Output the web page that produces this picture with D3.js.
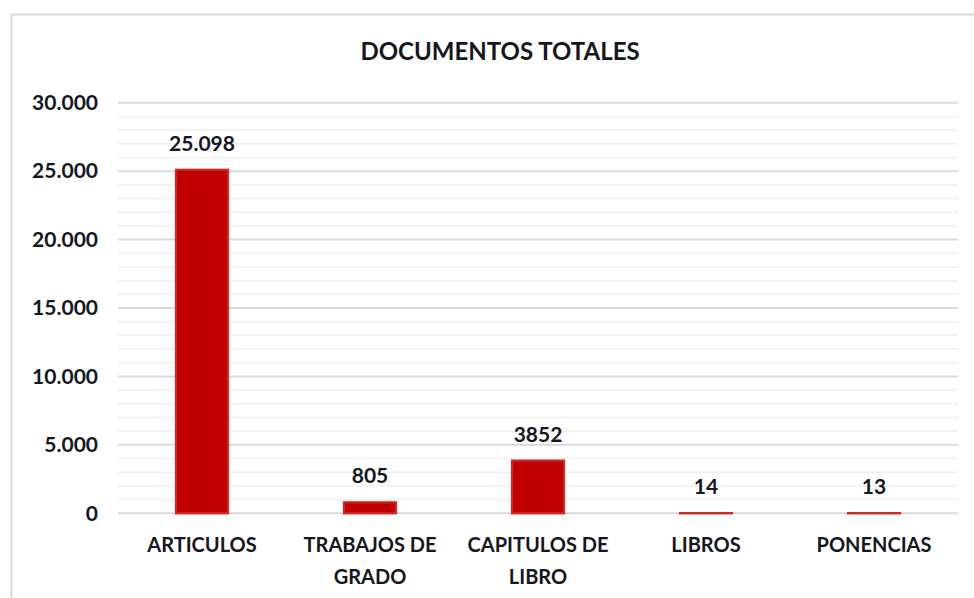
<!DOCTYPE html>
<html>
<head>
<meta charset="utf-8">
<script src="https://cdn.jsdelivr.net/npm/d3@7"></script>
<style>
    body { margin: 0; background: #fff; }
    text { font-family: Lato, "Open Sans", sans-serif; font-weight: bold; fill: #16161e; }
</style>
</head>
<body>
<div id="chart"></div>
<script>
// Data
var categories = ["ARTICULOS", "TRABAJOS DE GRADO", "CAPITULOS DE LIBRO", "LIBROS", "PONENCIAS"];
var values = [25098, 805, 3852, 14, 13];
var valueLabels = ["25.098", "805", "3852", "14", "13"];
var yTicks = [0, 5000, 10000, 15000, 20000, 25000, 30000];
var yTickLabels = ["0", "5.000", "10.000", "15.000", "20.000", "25.000", "30.000"];
var title = "DOCUMENTOS TOTALES";

var W = 974, H = 598;
var margin = { top: 102.7, right: 16, bottom: 84.7, left: 118 };
var width = W - margin.left - margin.right;
var height = H - margin.top - margin.bottom;

var svg = d3.select("#chart").append("svg")
    .attr("width", W)
    .attr("height", H);

// chart area border (only top and left visible in the crop)
svg.append("path")
    .attr("d", "M11.5," + H + " V14.5 H" + W)
    .attr("fill", "none")
    .attr("stroke", "#d9d9d9")
    .attr("stroke-width", 2);

svg.append("text")
    .attr("x", 500)
    .attr("y", 60)
    .attr("text-anchor", "middle")
    .style("font-size", "24px")
    .text(title);

var g = svg.append("g")
    .attr("transform", "translate(" + margin.left + "," + margin.top + ")");

var y = d3.scaleLinear()
    .domain([0, 30000])
    .range([height, 0]);

var x = d3.scaleBand()
    .domain(categories)
    .range([0, width])
    .padding(0);

var barW = x.bandwidth() * 0.31;

// minor gridlines every 1000
var minor = d3.range(0, 30001, 1000).filter(function(d){ return d % 5000 !== 0; });
g.selectAll(".minor")
    .data(minor)
    .enter().append("line")
    .attr("class", "minor")
    .attr("x1", 0).attr("x2", width)
    .attr("y1", function(d){ return y(d); })
    .attr("y2", function(d){ return y(d); })
    .attr("stroke", "#efefef")
    .attr("stroke-width", 1.5);

// major gridlines
g.selectAll(".major")
    .data(yTicks)
    .enter().append("line")
    .attr("class", "major")
    .attr("x1", 0).attr("x2", width)
    .attr("y1", function(d){ return y(d); })
    .attr("y2", function(d){ return y(d); })
    .attr("stroke", "#d9d9d9")
    .attr("stroke-width", 2);

// y axis labels
var yAxis = d3.axisLeft(y)
    .tickValues(yTicks)
    .tickSize(0)
    .tickPadding(20)
    .tickFormat(function(d, i){ return yTickLabels[i]; });

var yAxisg = g.append("g").call(yAxis);
yAxisg.select(".domain").remove();
yAxisg.selectAll("text")
    .style("font-size", "21px")
    .style("font-family", null)
    .attr("fill", null);

// bars
g.selectAll(".bar")
    .data(values)
    .enter().append("rect")
    .attr("class", "bar")
    .attr("x", function(d, i){ return x(categories[i]) + (x.bandwidth() - barW) / 2; })
    .attr("width", barW)
    .attr("y", function(d){ return y(d); })
    .attr("height", function(d){ return y(0) - y(d); })
    .attr("fill", "#c00000")
    .attr("stroke", "#cc2a2a")
    .attr("stroke-width", 2.2);

// value labels
g.selectAll(".val")
    .data(values)
    .enter().append("text")
    .attr("class", "val")
    .attr("x", function(d, i){ return x(categories[i]) + x.bandwidth() / 2; })
    .attr("y", function(d){ return y(d) - 19; })
    .attr("text-anchor", "middle")
    .style("font-size", "21px")
    .text(function(d, i){ return valueLabels[i]; });

// category labels, wrapped to the band width
var xAxis = d3.axisBottom(x).tickSize(0).tickPadding(0);
var xAxisg = g.append("g")
    .attr("transform", "translate(0," + height + ")")
    .call(xAxis);
xAxisg.select(".domain").remove();
xAxisg.selectAll("text")
    .style("font-size", "20px")
    .style("font-family", null)
    .attr("fill", null)
    .attr("dy", null)
    .attr("y", 0)
    .each(function(d){
        var t = d3.select(this);
        var words = d.split(" ");
        var lines = [], line = [];
        t.text(null);
        var probe = t.append("tspan");
        words.forEach(function(w){
            line.push(w);
            probe.text(line.join(" "));
            if (probe.node().getComputedTextLength() > x.bandwidth() - 16 && line.length > 1) {
                line.pop();
                lines.push(line.join(" "));
                line = [w];
            }
        });
        lines.push(line.join(" "));
        probe.remove();
        lines.forEach(function(l, k){
            t.append("tspan")
                .attr("x", 0)
                .attr("y", 39 + k * 32)
                .text(l);
        });
    });
</script>
</body>
</html>
